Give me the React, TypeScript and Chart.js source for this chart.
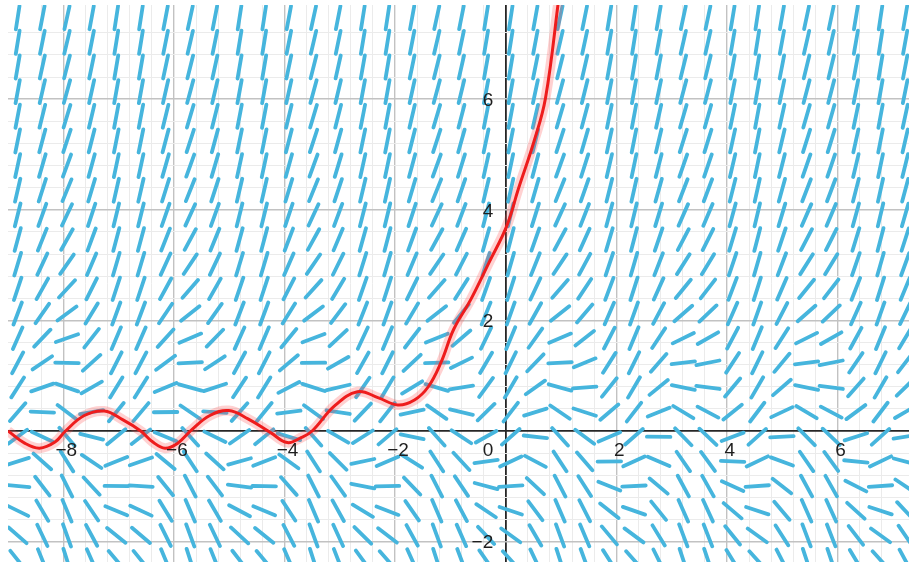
import { useEffect, useRef } from "react";
import { Chart, registerables } from "chart.js";

Chart.register(...registerables);

// Visible window of the plane
const X_MIN = -9.0;
const X_MAX = 7.293;
const Y_MIN = -2.369;
const Y_MAX = 7.703;
const GRID_STEP = 0.4;

// Slope field on a square lattice: slope = rowSlope[row] + columnShift[col]
const FIELD_X0 = -8.825;
const FIELD_Y0 = 7.474;
const FIELD_STEP = 0.4458;
const rowSlope = [
  5.6, 5.3, 5.0, 4.7, 4.4, 4.1, 3.8, 3.5, 3.2, 2.85,
  2.5, 2.15, 1.8, 1.42, 1.05, 0.72, 0.32, -0.1, -0.52, -0.93,
  -1.33, -1.72, -2.1,
];
const columnShift = [
  0.84, -0.37, -1.07, -0.15, 0.92, 0.87, -0.31, -1.0, -0.39, 0.8,
  0.91, -0.2, -1.04, -0.48, 0.73, 0.95, -0.11, -1.02, -0.56, 0.66,
  0.99, -0.01, -1.0, -0.64, 0.53, 0.98, 0.09, -0.93, -0.85, 0.48,
  1.0, 0.15, -0.92, -0.85, 0.42, 1.0, 0.26,
];
const SEGMENT_LENGTH = 0.425;

// Solution curve
const curveX = [
  -9.0, -8.7, -8.43, -8.15, -7.96, -7.62, -7.26, -6.92, -6.6, -6.38,
  -6.16, -5.93, -5.68, -5.35, -5.01, -4.66, -4.25, -3.95, -3.7, -3.5,
  -3.1, -2.68, -2.3, -1.95, -1.65, -1.4, -1.17, -0.94, -0.63, -0.3,
  0.02, 0.23, 0.51, 0.72, 0.97,
];
const curveY = [
  0.0, -0.22, -0.31, -0.2, 0.0, 0.28, 0.36, 0.2, 0.0, -0.2,
  -0.31, -0.22, 0.02, 0.28, 0.37, 0.22, -0.03, -0.21, -0.12, 0.0,
  0.45, 0.71, 0.6, 0.47, 0.56, 0.8, 1.24, 1.84, 2.38, 3.05,
  3.71, 4.38, 5.23, 6.02, 7.9,
];

// Axis numbers
const xLabelValues = [-8, -6, -4, -2, 2, 4, 6];
const xLabelText = ["−8", "−6", "−4", "−2", "2", "4", "6"];
const yLabelValues = [-2, 2, 4, 6];
const yLabelText = ["−2", "2", "4", "6"];
const originLabel = "0";

const FIELD_COLOR = "rgb(70,181,221)";
const CURVE_COLOR = "rgb(238,28,28)";
const HALO_COLOR = "rgba(255,70,70,0.25)";
const LABEL_FONT = '19px "Liberation Sans", Arial, sans-serif';

function isMultiple(v: number, step: number) {
  return Math.abs(v / step - Math.round(v / step)) < 1e-6;
}

function buildField() {
  const pts: { x: number; y: number | null }[] = [];
  rowSlope.forEach((base, j) => {
    const y = FIELD_Y0 - j * FIELD_STEP;
    columnShift.forEach((shift, k) => {
      const x = FIELD_X0 + k * FIELD_STEP;
      const m = base + shift;
      const d = Math.sqrt(1 + m * m);
      const dx = SEGMENT_LENGTH / 2 / d;
      const dy = m * dx;
      pts.push({ x: x - dx, y: y - dy });
      pts.push({ x: x + dx, y: y + dy });
      pts.push({ x, y: null });
    });
  });
  return pts;
}

const axisLabels = {
  id: "axisLabels",
  afterDatasetsDraw(chart: any) {
    const { ctx, scales } = chart;
    const xs = scales.x;
    const ys = scales.y;
    const x0 = xs.getPixelForValue(0);
    const y0 = ys.getPixelForValue(0);
    ctx.save();
    ctx.font = LABEL_FONT;
    ctx.fillStyle = "#1e1e1e";
    ctx.textBaseline = "middle";
    ctx.textAlign = "center";
    xLabelValues.forEach((v, i) => {
      ctx.fillText(xLabelText[i], xs.getPixelForValue(v) + 3, y0 + 19.5);
    });
    ctx.textAlign = "right";
    yLabelValues.forEach((v, i) => {
      ctx.fillText(yLabelText[i], x0 - 12.5, ys.getPixelForValue(v) + 1.5);
    });
    ctx.fillText(originLabel, x0 - 12.5, y0 + 19.5);
    ctx.restore();
  },
};

function gridColor(ctx: any) {
  const v = ctx.tick?.value ?? 1;
  if (Math.abs(v) < 1e-6) return "#262626";
  if (isMultiple(v, 2)) return "#c2c2c2";
  return "#ebebeb";
}
function gridWidth(ctx: any) {
  const v = ctx.tick?.value ?? 1;
  if (Math.abs(v) < 1e-6) return 1.8;
  if (isMultiple(v, 2)) return 1.4;
  return 1;
}

function keepGridTicks(scale: any) {
  scale.ticks = scale.ticks.filter((t: any) => isMultiple(t.value, GRID_STEP));
}

export default function App() {
  const canvasRef = useRef<HTMLCanvasElement>(null);

  useEffect(() => {
    if (!canvasRef.current) return;
    const curve = curveX.map((x, i) => ({ x, y: curveY[i] }));
    const chart = new Chart(canvasRef.current, {
      type: "line",
      data: {
        datasets: [
          {
            data: curve,
            borderColor: CURVE_COLOR,
            borderWidth: 3,
            pointRadius: 0,
            tension: 0.4,
            order: 0,
          },
          {
            data: curve,
            borderColor: HALO_COLOR,
            borderWidth: 10,
            pointRadius: 0,
            tension: 0.4,
            order: 1,
          },
          {
            data: buildField() as any,
            borderColor: FIELD_COLOR,
            borderWidth: 3.8,
            borderCapStyle: "round",
            pointRadius: 0,
            tension: 0,
            spanGaps: false,
            order: 2,
          },
        ],
      },
      options: {
        responsive: false,
        animation: false,
        events: [],
        layout: { padding: 0 },
        plugins: { legend: { display: false }, tooltip: { enabled: false } },
        scales: {
          x: {
            type: "linear",
            min: X_MIN,
            max: X_MAX,
            afterBuildTicks: keepGridTicks,
            ticks: { display: false, stepSize: GRID_STEP },
            grid: { drawTicks: false, color: gridColor, lineWidth: gridWidth },
            border: { display: false },
          },
          y: {
            type: "linear",
            min: Y_MIN,
            max: Y_MAX,
            afterBuildTicks: keepGridTicks,
            ticks: { display: false, stepSize: GRID_STEP },
            grid: { drawTicks: false, color: gridColor, lineWidth: gridWidth },
            border: { display: false },
          },
        },
      },
      plugins: [axisLabels],
    });
    return () => chart.destroy();
  }, []);

  return (
    <canvas
      ref={canvasRef}
      width={901}
      height={557}
      style={{ position: "absolute", left: 8, top: 5 }}
    />
  );
}
